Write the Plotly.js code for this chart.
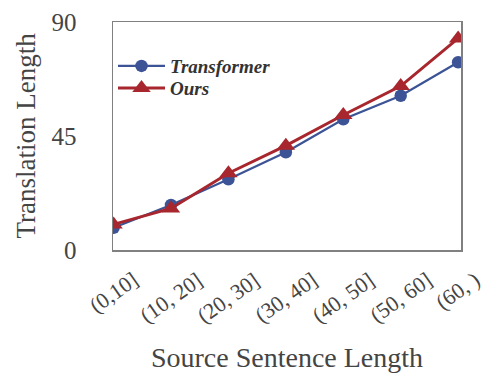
<!DOCTYPE html>
<html><head><meta charset="utf-8">
<script src="https://cdn.plot.ly/plotly-3.0.1.min.js"></script>
<style>body{margin:0;background:#fff}#c{width:484px;height:374px}</style>
</head><body><div id="c"></div>
<script>
const categories = ["(0,10]", "(10, 20]", "(20, 30]", "(30, 40]", "(40, 50]", "(50, 60]", "(60, )"];
const transformer = [8.8, 17.8, 27.9, 38.6, 51.6, 60.9, 74.1];
const ours = [10.1, 16.4, 30.3, 41.2, 53.3, 64.7, 83.5];
const yTicks = [0, 45, 90];

const xIdx = categories.map((_, i) => i);
const traces = [
  {x: xIdx, y: transformer, name: "Transformer", mode: "lines+markers", legend: "legend",
   line: {color: "#3c5496", width: 2.2}, marker: {symbol: "circle", size: 12.5, color: "#3c5496"}},
  {x: xIdx, y: ours, name: "Ours", mode: "lines+markers", legend: "legend2",
   line: {color: "#a8262d", width: 3}, marker: {symbol: "triangle-up", size: 16, color: "#a8262d"}}
];
const tickAnnotations = categories.map((c, i) => ({
  x: i, xref: "x", y: 0, yref: "paper", yshift: -14,
  xanchor: "center", yanchor: "top", showarrow: false, textangle: -35,
  text: c, font: {family: "Liberation Serif", size: 22, color: "#444"}
}));
const legendFont = {family: "Liberation Serif", size: 19, color: "#333", weight: "bold", style: "italic"};
const layout = {
  width: 484, height: 374,
  margin: {l: 113, r: 23, t: 22, b: 124},
  paper_bgcolor: "#fff", plot_bgcolor: "#fff",
  showlegend: true,
  legend: {x: 0.0, y: 0.89, xanchor: "left", yanchor: "top", bgcolor: "rgba(0,0,0,0)",
    font: legendFont, itemwidth: 47},
  legend2: {x: 0.0, y: 0.793, xanchor: "left", yanchor: "top", bgcolor: "rgba(0,0,0,0)",
    font: legendFont, itemwidth: 47},
  annotations: tickAnnotations,
  xaxis: {
    tickvals: xIdx, ticktext: categories, range: [-0.01, 6.05], showticklabels: false,
    showgrid: false, zeroline: false,
    showline: true, mirror: true, linecolor: "#808080", linewidth: 1.5,
    ticks: "",
    title: {text: "Source Sentence Length", font: {family: "Liberation Serif", size: 28, color: "#444"}, standoff: 97}
  },
  yaxis: {
    range: [0, 90], tickvals: yTicks, showgrid: false, zeroline: false,
    showline: true, mirror: true, linecolor: "#808080", linewidth: 1.5,
    ticks: "", ticklabelstandoff: 30,
    tickfont: {family: "Liberation Serif", size: 25, color: "#444"},
    title: {text: "Translation Length", font: {family: "Liberation Serif", size: 27, color: "#444"}, standoff: 8}
  }
};
Plotly.newPlot("c", traces, layout, {displayModeBar: false, staticPlot: true});
</script></body></html>
